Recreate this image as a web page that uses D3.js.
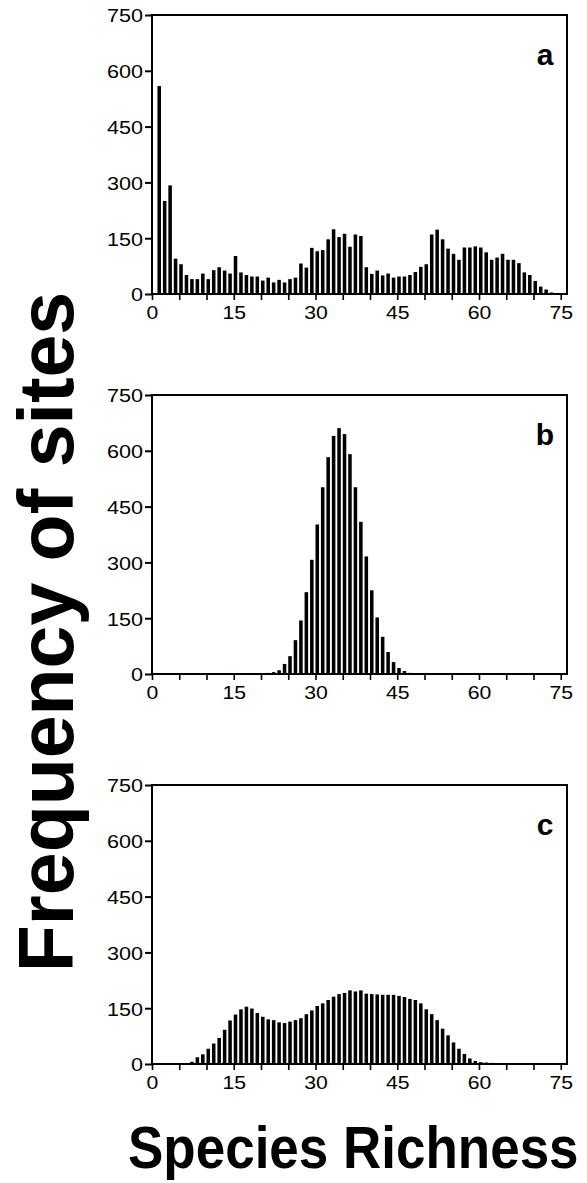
<!DOCTYPE html>
<html>
<head>
<meta charset="utf-8">
<script src="https://cdn.jsdelivr.net/npm/d3@7"></script>
<style>
  html, body { margin: 0; padding: 0; background: #fff; }
  svg { display: block; }
  text { font-family: "Liberation Sans", Arial, Helvetica, sans-serif; fill: #000; }
</style>
</head>
<body>
<svg id="chart" width="587" height="1183"></svg>
<script>
// ---- data ----
const richnessA = d3.range(1, 74);
const freqA = [559, 250, 292, 95, 80, 51, 40, 40, 55, 40, 64, 72, 63, 55, 102, 58, 51, 47, 47, 36,
  44, 31, 38, 31, 40, 44, 82, 71, 124, 115, 118, 147, 174, 153, 162, 127, 160, 156, 72, 54,
  63, 50, 55, 44, 47, 47, 51, 59, 73, 80, 160, 173, 147, 122, 108, 92, 125, 125, 128, 125,
  112, 92, 98, 108, 92, 92, 83, 58, 51, 35, 20, 12, 4];

const richnessB = d3.range(18, 51);
const freqB = [1, 1, 2, 3, 5, 10, 27, 48, 91, 144, 220, 307, 402, 502, 583, 640, 661, 645, 591, 502,
  409, 316, 225, 152, 100, 59, 32, 16, 8, 3, 2, 1, 1];

const richnessC = d3.range(7, 63);
const freqC = [6, 18, 26, 41, 55, 70, 92, 117, 133, 147, 154, 149, 137, 127, 120, 118, 112, 110, 114, 118,
  123, 134, 144, 156, 163, 172, 181, 188, 191, 198, 195, 198, 189, 188, 187, 186, 186, 186, 183, 180,
  175, 172, 163, 147, 134, 118, 95, 77, 58, 41, 27, 15, 8, 5, 4, 3];

const panelLabels = ["a", "b", "c"];
const yTicks = [0, 150, 300, 450, 600, 750];
const xMinorTicks = d3.range(0, 80, 5);
const xLabelTicks = [0, 15, 30, 45, 60, 75];
const yTitle = "Frequency of sites";
const xTitle = "Species Richness";

// ---- layout ----
const svg = d3.select("#chart");
const left = 152, right = 567, panelH = 279;
const panelTops = [15, 395, 785];
const x = d3.scaleLinear().domain([0, 76.15]).range([left, right]);
const barW = 0.65;

const panels = [
  { r: richnessA, f: freqA },
  { r: richnessB, f: freqB },
  { r: richnessC, f: freqC }
];

panels.forEach((p, i) => {
  const top = panelTops[i];
  const y = d3.scaleLinear().domain([0, 750]).range([top + panelH, top]);
  const g = svg.append("g");

  const data = p.r.map((k, j) => ({ k, v: p.f[j] }));
  g.selectAll("rect.bar").data(data).enter().append("rect")
    .attr("class", "bar")
    .attr("x", d => x(d.k))
    .attr("width", d => x(d.k + barW) - x(d.k))
    .attr("y", d => y(d.v))
    .attr("height", d => y(0) - y(d.v))
    .attr("fill", "#000");

  // frame
  g.append("rect")
    .attr("x", left).attr("y", top)
    .attr("width", right - left).attr("height", panelH)
    .attr("fill", "none").attr("stroke", "#000").attr("stroke-width", 2);

  // y axis
  const yAxis = d3.axisLeft(y).tickValues(yTicks).tickSize(7).tickPadding(2);
  const ya = g.append("g").attr("transform", `translate(${left},0)`).call(yAxis);
  ya.select(".domain").remove();
  ya.selectAll(".tick line").attr("stroke-width", 2);
  ya.selectAll(".tick text").attr("font-size", 19).attr("dy", "0.36em")
    .attr("textLength", d => String(d).length * 12)
    .attr("lengthAdjust", "spacingAndGlyphs")
    .style("font-family", "'Liberation Sans', Arial, sans-serif");

  // x axis (minor ticks all, labels on selected)
  const xAxis = d3.axisBottom(x).tickValues(xMinorTicks).tickSize(6).tickPadding(6)
    .tickFormat(d => xLabelTicks.includes(d) ? d : "");
  const xa = g.append("g").attr("transform", `translate(0,${top + panelH})`).call(xAxis);
  xa.select(".domain").remove();
  xa.selectAll(".tick line").attr("stroke-width", 1.6);
  xa.selectAll(".tick text").attr("font-size", 19)
    .filter(d => xLabelTicks.includes(d))
    .attr("textLength", d => String(d).length * 11.8)
    .attr("lengthAdjust", "spacingAndGlyphs")
    .style("font-family", "'Liberation Sans', Arial, sans-serif");

  // panel letter
  g.append("text")
    .attr("x", 545).attr("y", top + 50)
    .attr("text-anchor", "middle")
    .attr("font-size", 30).attr("font-weight", "bold")
    .text(panelLabels[i]);
});

// axis titles
svg.append("text")
  .attr("transform", "translate(73,632) rotate(-90)")
  .attr("text-anchor", "middle")
  .attr("font-size", 77).attr("font-weight", "bold")
  .text(yTitle);

svg.append("text")
  .attr("transform", "translate(128,1168) scale(1,1.12)")
  .attr("font-size", 53).attr("font-weight", "bold")
  .text(xTitle);
</script>
</body>
</html>
